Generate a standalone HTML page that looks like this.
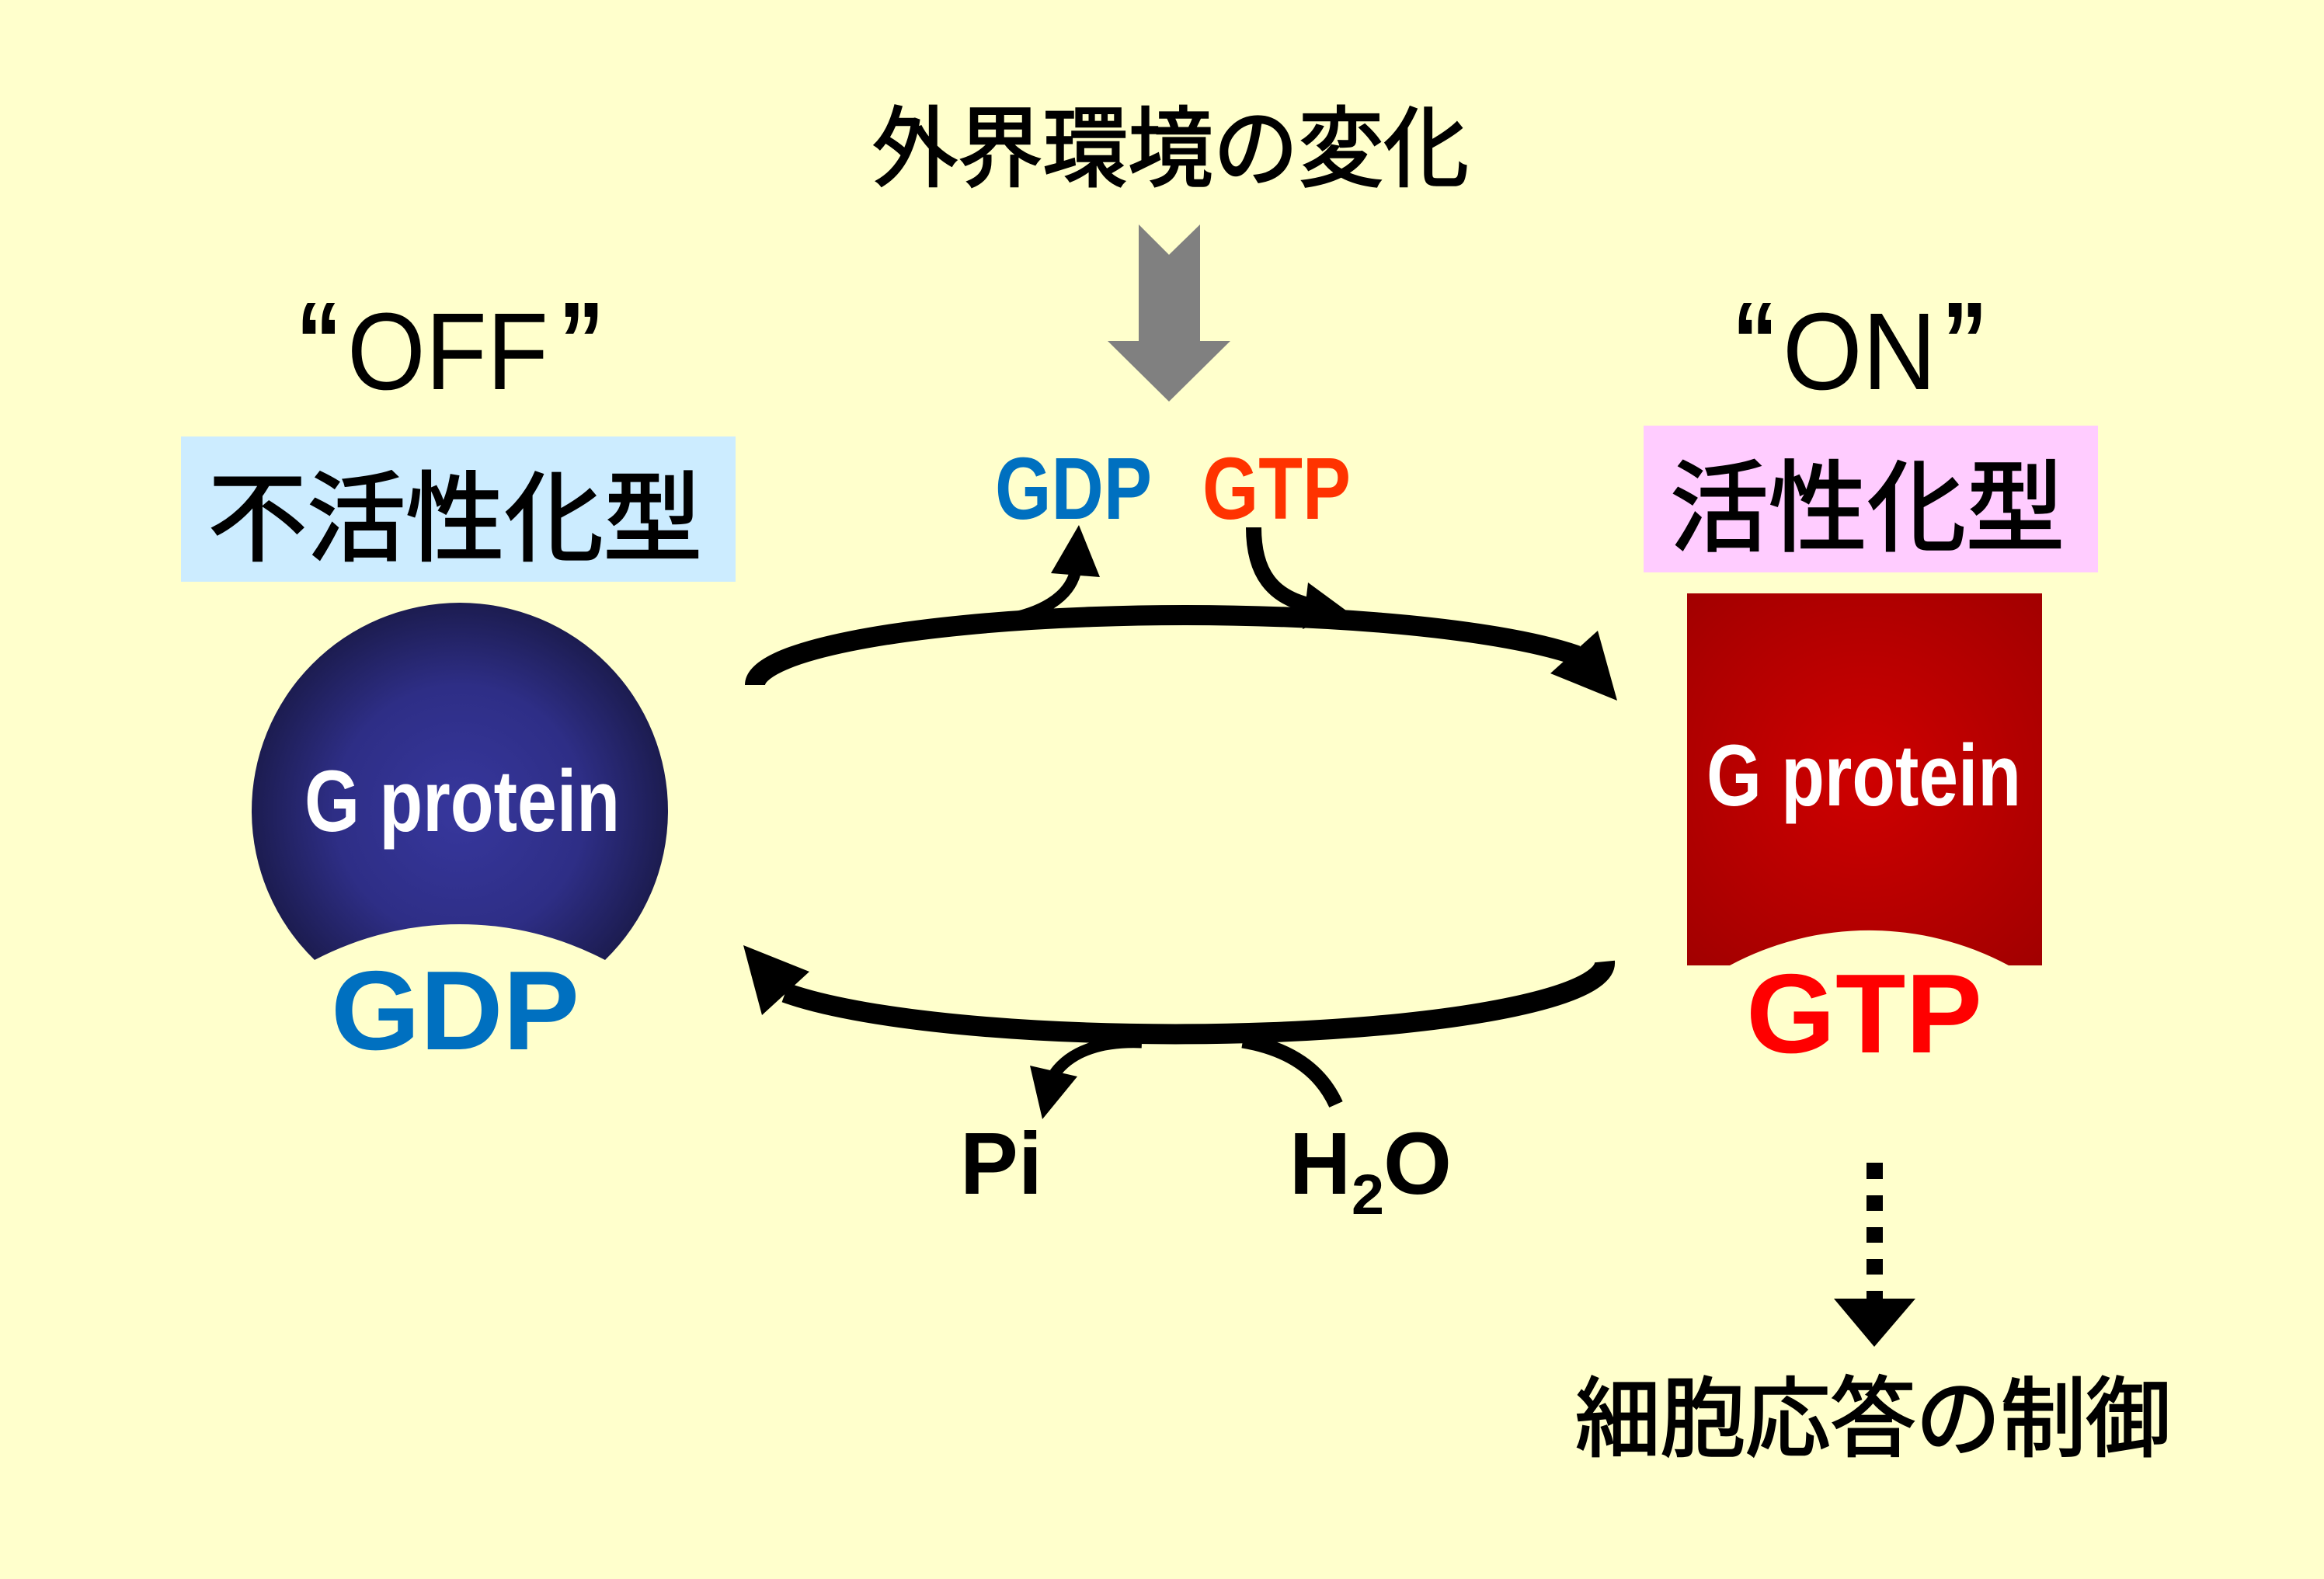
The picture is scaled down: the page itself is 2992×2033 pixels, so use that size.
<!DOCTYPE html>
<html>
<head>
<meta charset="utf-8">
<style>
html,body{margin:0;padding:0;background:#FFFFCC;}
svg{display:block;}
.jp{font-family:"Liberation Sans","Noto Sans CJK JP",sans-serif;}
.lb{font-family:"Liberation Sans",Arial,sans-serif;font-weight:bold;}
.lr{font-family:"Liberation Sans",Arial,sans-serif;}
</style>
</head>
<body>
<svg width="2992" height="2033" viewBox="0 0 2992 2033" xmlns="http://www.w3.org/2000/svg">
<defs>
<radialGradient id="blueG" cx="592" cy="1044" r="268" gradientUnits="userSpaceOnUse">
<stop offset="0" stop-color="#37379D"/>
<stop offset="0.6" stop-color="#2E2E86"/>
<stop offset="1" stop-color="#1C1C50"/>
</radialGradient>
<radialGradient id="redG" cx="2400" cy="1000" r="340" gradientUnits="userSpaceOnUse">
<stop offset="0" stop-color="#CF0000"/>
<stop offset="1" stop-color="#A00000"/>
</radialGradient>
</defs>
<rect x="0" y="0" width="2992" height="2033" fill="#FFFFCC"/>

<!-- Title -->
<text class="jp" x="1123" y="231" font-size="113" textLength="768" lengthAdjust="spacingAndGlyphs" fill="#000" stroke="#000" stroke-width="2.5">外界環境の変化</text>

<!-- Gray arrow -->
<polygon points="1466,289 1505,328 1545,289 1545,439 1584,439 1505,517 1426,439 1466,439" fill="#808080"/>

<!-- OFF -->
<text class="lb" x="381" y="487" font-size="141" textLength="59" lengthAdjust="spacingAndGlyphs" fill="#000">“</text>
<text class="lr" x="447" y="501" font-size="141" textLength="259" lengthAdjust="spacingAndGlyphs" fill="#000">OFF</text>
<text class="lb" x="719" y="487" font-size="141" textLength="59" lengthAdjust="spacingAndGlyphs" fill="#000">”</text>

<!-- ON -->
<text class="lb" x="2230" y="487" font-size="141" textLength="59" lengthAdjust="spacingAndGlyphs" fill="#000">“</text>
<text class="lr" x="2295" y="501" font-size="141" textLength="198" lengthAdjust="spacingAndGlyphs" fill="#000">ON</text>
<text class="lb" x="2500" y="487" font-size="141" textLength="59" lengthAdjust="spacingAndGlyphs" fill="#000">”</text>

<!-- Blue box -->
<rect x="233" y="562" width="714" height="187" fill="#CCECFF"/>
<text class="jp" x="268" y="712" font-size="126" textLength="636" lengthAdjust="spacingAndGlyphs" fill="#000" stroke="#000" stroke-width="2.5">不活性化型</text>

<!-- Pink box -->
<rect x="2116" y="548" width="585" height="189" fill="#FFCCFF"/>
<text class="jp" x="2150" y="699" font-size="128" textLength="508" lengthAdjust="spacingAndGlyphs" fill="#000" stroke="#000" stroke-width="2.5">活性化型</text>

<!-- Blue G protein -->
<path d="M405,1236 A268,268 0 1 1 779,1236 A403,403 0 0 0 405,1236 Z" fill="url(#blueG)"/>
<text class="lb" x="392" y="1070" font-size="112" textLength="406" lengthAdjust="spacingAndGlyphs" fill="#FFFFFF">G protein</text>
<text class="lb" x="426" y="1351" font-size="145" textLength="320" lengthAdjust="spacingAndGlyphs" fill="#0070C0">GDP</text>

<!-- Red G protein -->
<path d="M2172,764 H2629 V1243 H2586 A380,380 0 0 0 2227,1243 H2172 Z" fill="url(#redG)"/>
<text class="lb" x="2197" y="1037" font-size="112" textLength="405" lengthAdjust="spacingAndGlyphs" fill="#FFFFFF">G protein</text>
<text class="lb" x="2248" y="1355" font-size="145" textLength="304" lengthAdjust="spacingAndGlyphs" fill="#FF0000">GTP</text>

<!-- Small GDP / GTP -->
<text class="lb" x="1281" y="668" font-size="113" textLength="202" lengthAdjust="spacingAndGlyphs" fill="#0070C0">GDP</text>
<text class="lb" x="1548" y="668" font-size="113" textLength="191" lengthAdjust="spacingAndGlyphs" fill="#FF3300">GTP</text>

<!-- Top arc arrow -->
<path d="M972,882 A555,90 0 0 1 2030,844" fill="none" stroke="#000" stroke-width="26"/>
<polygon points="2082,902 2057,812 1996,867" fill="#000"/>

<!-- GDP release arrow -->
<path d="M1292,798 C1340,790 1375,770 1384,738" fill="none" stroke="#000" stroke-width="15"/>
<polygon points="1389,676 1353,738 1416,743" fill="#000"/>

<!-- GTP entry arrow -->
<path d="M1614,679 C1614,740 1640,768 1684,779" fill="none" stroke="#000" stroke-width="20"/>
<polygon points="1733,786 1684,750 1677,810" fill="#000"/>

<!-- Bottom arc arrow -->
<path d="M2066,1238 A553,92 0 0 1 1011,1278" fill="none" stroke="#000" stroke-width="26"/>
<polygon points="957,1217 1042,1251 981,1307" fill="#000"/>

<!-- Pi arrow -->
<path d="M1470,1342 C1420,1340 1380,1352 1358,1382" fill="none" stroke="#000" stroke-width="15"/>
<polygon points="1342,1441 1326,1372 1387,1386" fill="#000"/>

<!-- H2O arrow -->
<path d="M1720,1422 C1700,1378 1660,1350 1600,1340" fill="none" stroke="#000" stroke-width="19"/>

<!-- Pi / H2O labels -->
<text class="lb" x="1236" y="1537" font-size="113" textLength="106" lengthAdjust="spacingAndGlyphs" fill="#000">Pi</text>
<text class="lb" x="1660" y="1537" font-size="113" textLength="79" lengthAdjust="spacingAndGlyphs" fill="#000">H</text>
<text class="lb" x="1740" y="1563" font-size="73" textLength="42" lengthAdjust="spacingAndGlyphs" fill="#000">2</text>
<text class="lb" x="1781" y="1537" font-size="113" textLength="88" lengthAdjust="spacingAndGlyphs" fill="#000">O</text>

<!-- Dashed arrow -->
<rect x="2403" y="1497" width="21" height="21" fill="#000"/>
<rect x="2403" y="1539" width="21" height="20" fill="#000"/>
<rect x="2403" y="1580" width="21" height="20" fill="#000"/>
<rect x="2403" y="1621" width="21" height="20" fill="#000"/>
<rect x="2403" y="1662" width="21" height="12" fill="#000"/>
<polygon points="2361,1672 2466,1672 2413,1734" fill="#000"/>

<!-- Bottom label -->
<text class="jp" x="2028" y="1866" font-size="112" textLength="767" lengthAdjust="spacingAndGlyphs" fill="#000" stroke="#000" stroke-width="2.5">細胞応答の制御</text>
</svg>
</body>
</html>
